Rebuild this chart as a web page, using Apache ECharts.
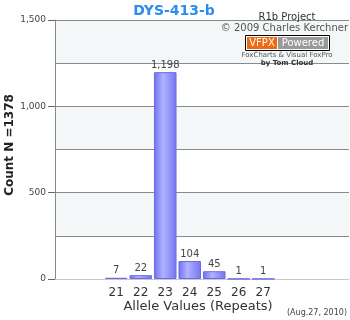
<!DOCTYPE html>
<html><head><meta charset="utf-8">
<script src="https://cdn.jsdelivr.net/npm/echarts@6/dist/echarts.min.js"></script>
<style>html,body{margin:0;padding:0;background:#fff}#c{width:350px;height:320px}</style>
</head><body><div id="c"></div>
<script>
var categories = ['', '', '21', '22', '23', '24', '25', '26', '27', '', '', ''];
var counts = [null, null, 7, 22, 1198, 104, 45, 1, 1, null, null, null];
var yTicks = [0, 500, 1000, 1500];

var F = '"DejaVu Sans", Verdana, sans-serif';
var chart = echarts.init(document.getElementById('c'));
var barColor = new echarts.graphic.LinearGradient(0, 0, 1, 0, [
  {offset: 0, color: '#6e6ef0'}, {offset: 0.4, color: '#b0b4ff'}, {offset: 1, color: '#7474f2'}]);
function T(text, x, y, align, fill, font, extra) {
  var o = {type: 'text', z: 100, style: {text: text, x: x, y: y, align: align, verticalAlign: 'middle', fill: fill, font: font}};
  if (extra) for (var k in extra) o[k] = extra[k];
  return o;
}
chart.setOption({
  animation: false,
  grid: {left: 55, right: 1, top: 20, bottom: 41},
  xAxis: {
    type: 'category', data: categories,
    axisLine: {lineStyle: {color: '#c8c8c8'}},
    axisTick: {show: false},
    axisLabel: {color: '#333', fontFamily: F, fontSize: 12, margin: 8, interval: 0}
  },
  yAxis: [{
    type: 'value', min: 0, max: 1500, interval: 250,
    axisLine: {show: false}, axisTick: {show: false}, axisLabel: {show: false},
    splitLine: {lineStyle: {color: '#8a8a8a'}},
    splitArea: {show: true, areaStyle: {color: ['#ffffff', '#f3f7f8']}}
  }, {
    type: 'value', min: 0, max: 1500, interval: 500, position: 'left',
    axisLine: {show: true, lineStyle: {color: '#8a8a8a'}},
    axisTick: {show: true, length: 7, lineStyle: {color: '#666'}},
    splitLine: {show: false},
    axisLabel: {color: '#444', fontFamily: F, fontSize: 9, margin: 9,
      formatter: function(v){ return yTicks.indexOf(v) >= 0 ? v.toLocaleString('en-US') : ''; }}
  }],
  series: [{
    type: 'bar', data: counts, barCategoryGap: '8%', yAxisIndex: 0,
    itemStyle: {color: barColor, borderColor: '#6a6ae6', borderWidth: 1},
    label: {show: true, position: 'top', distance: 2, color: '#444', fontFamily: F, fontSize: 10,
      formatter: function(p){ return p.value == null ? '' : p.value.toLocaleString('en-US'); }}
  }],
  graphic: [
    T('DYS-413-b', 174, 11, 'center', '#2b8cf0', 'bold 14px ' + F),
    T('Count N =1378', 0, 0, 'center', '#222', 'bold 12px ' + F, {x: 10, y: 145, rotation: Math.PI / 2}),
    T('Allele Values (Repeats)', 198, 307, 'center', '#333', '13px ' + F),
    T('(Aug.27, 2010)', 347, 313, 'right', '#444', '8px ' + F),
    T('R1b Project', 287, 17, 'center', '#333', '10px ' + F),
    T('\u00a9 2009 Charles Kerchner', 348, 28, 'right', '#555', '10px ' + F),
    {type: 'rect', z: 100, shape: {x: 245.5, y: 35.5, width: 84, height: 15}, style: {fill: '#fff', stroke: '#000', lineWidth: 1}},
    {type: 'rect', z: 101, shape: {x: 247, y: 37, width: 30, height: 12}, style: {fill: '#f06a10'}},
    {type: 'rect', z: 101, shape: {x: 278, y: 37, width: 50, height: 12}, style: {fill: '#999'}},
    T('VFPX', 262, 43, 'center', '#fff', '10px ' + F, {z: 102}),
    T('Powered', 303, 43, 'center', '#fff', '10px ' + F, {z: 102}),
    T('FoxCharts & Visual FoxPro', 287, 55, 'center', '#555', '7px ' + F),
    T('by Tom Cloud', 287, 63, 'center', '#333', 'bold 7px ' + F)
  ]
});
</script></body></html>
